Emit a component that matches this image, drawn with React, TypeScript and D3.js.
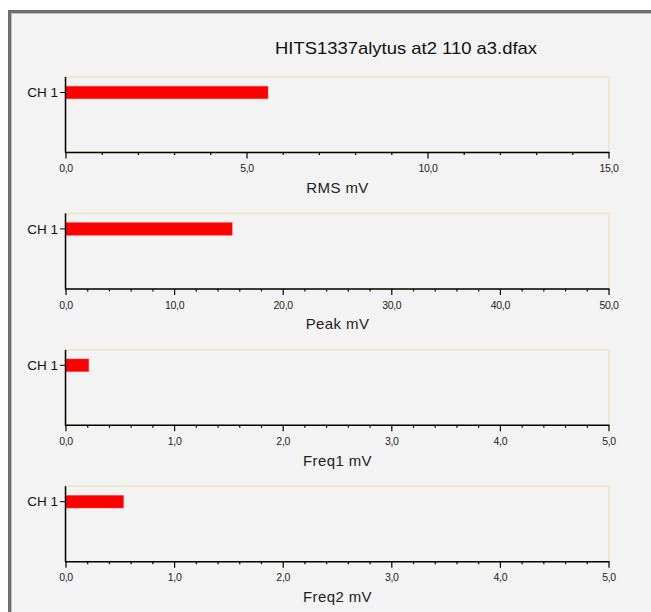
import React from "react";
import * as d3 from "d3";

const chartTitle = "HITS1337alytus at2 110 a3.dfax";
const channels = ["CH 1"];
const panelNames = ["RMS mV", "Peak mV", "Freq1 mV", "Freq2 mV"];
const rmsValues = [5.58];
const peakValues = [15.3];
const freq1Values = [0.21];
const freq2Values = [0.53];
const axisMax = [15, 50, 5, 5];
const majorStep = [5, 10, 1, 1];
const minorStep = [1, 2, 0.2, 0.2];

const W = 651;
const H = 612;
const plotLeft = 66;
const plotRight = 609;
const firstTop = 77;
const panelStep = 136.4;
const plotH = 75.5;

const fmt = (v: number) => v.toFixed(1).replace(".", ",");
const font = "'Liberation Sans', Arial, sans-serif";

function Panel({ idx, values }: { idx: number; values: number[] }) {
  const top = firstTop + idx * panelStep;
  const bottom = top + plotH;
  const x = d3.scaleLinear().domain([0, axisMax[idx]]).range([plotLeft, plotRight]);
  const y = d3
    .scaleBand<string>()
    .domain(channels)
    .range([top + 5, top + 26])
    .padding(0.25);
  const majors = d3.range(0, axisMax[idx] + 1e-9, majorStep[idx]);
  const minors = d3
    .range(0, axisMax[idx] + 1e-9, minorStep[idx])
    .filter((v) => majors.every((m) => Math.abs(m - v) > 1e-6));
  return (
    <g>
      <rect x={plotLeft} y={top} width={plotRight - plotLeft} height={plotH} fill="none" stroke="#efe5bd" strokeWidth={1.5} />
      {channels.map((c, i) => (
        <rect
          key={c}
          x={x(0)}
          y={y(c)!}
          width={x(values[i]) - x(0)}
          height={y.bandwidth()}
          fill="#ff0000"
          stroke="#ff4040"
          strokeWidth={0.5}
        />
      ))}
      <line x1={plotLeft - 0.5} x2={plotLeft - 0.5} y1={top} y2={bottom} stroke="#000" strokeWidth={1.5} />
      <line x1={plotLeft - 1} x2={plotRight + 0.5} y1={bottom} y2={bottom} stroke="#000" strokeWidth={1.5} />
      {channels.map((c) => (
        <g key={c}>
          <line x1={plotLeft - 6} x2={plotLeft} y1={y(c)! + y.bandwidth() / 2} y2={y(c)! + y.bandwidth() / 2} stroke="#000" strokeWidth={1} />
          <text x={plotLeft - 8} y={y(c)! + y.bandwidth() / 2} dy="0.35em" textAnchor="end" fontSize={13.5} fontFamily={font} fill="#111">
            {c}
          </text>
        </g>
      ))}
      {majors.map((m) => (
        <g key={"M" + m}>
          <line x1={x(m)} x2={x(m)} y1={bottom} y2={bottom + 6} stroke="#000" strokeWidth={1.2} />
          <text x={x(m)} y={bottom + 16} dy="0.35em" textAnchor="middle" fontSize={10.5} fontFamily={font} fill="#222" letterSpacing={-0.3}>
            {fmt(m)}
          </text>
        </g>
      ))}
      {minors.map((m) => (
        <line key={"m" + m} x1={x(m)} x2={x(m)} y1={bottom} y2={bottom + 2.5} stroke="#000" strokeWidth={1.2} />
      ))}
      <text x={(plotLeft + plotRight) / 2} y={bottom + 35} dy="0.35em" textAnchor="middle" fontSize={15} fontFamily={font} fill="#222" letterSpacing={0.4}>
        {panelNames[idx]}
      </text>
    </g>
  );
}

export default function App() {
  const series = [rmsValues, peakValues, freq1Values, freq2Values];
  return (
    <svg width={W} height={H} style={{ position: "absolute", left: 0, top: 0, background: "#ffffff" }}>
      <rect x={0} y={0} width={W} height={H} fill="#ffffff" />
      <rect x={9.5} y={11.5} width={W + 20} height={H + 20} fill="#f3f3f3" stroke="#6e6e6e" strokeWidth={3} />
      <line x1={11} y1={13.5} x2={W} y2={13.5} stroke="#bdbdbd" strokeWidth={1} />
      <line x1={11.5} y1={13} x2={11.5} y2={H} stroke="#bdbdbd" strokeWidth={1} />
      <text
        x={406}
        y={48}
        dy="0.35em"
        textAnchor="middle"
        fontSize={17}
        fontFamily={font}
        fill="#111"
        textLength={262}
        lengthAdjust="spacingAndGlyphs"
      >
        {chartTitle}
      </text>
      {series.map((vals, i) => (
        <Panel key={i} idx={i} values={vals} />
      ))}
    </svg>
  );
}
